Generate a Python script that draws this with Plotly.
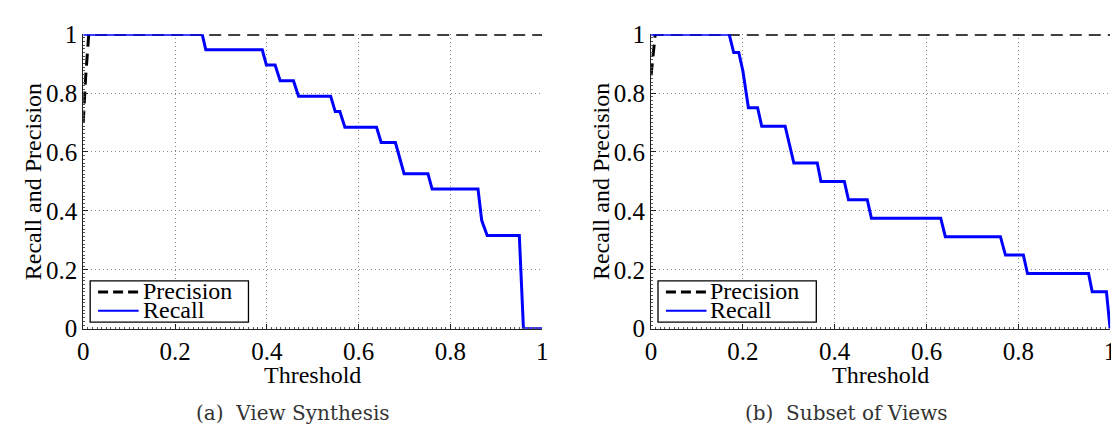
import plotly.graph_objects as go

W, H = 1119, 436

# ---- data ----
thr_a_recall = [0, 0.259, 0.267, 0.39, 0.399, 0.418, 0.429, 0.458, 0.469, 0.539, 0.549,
                0.559, 0.57, 0.639, 0.649, 0.68, 0.699, 0.751, 0.76, 0.86, 0.868, 0.88,
                0.95, 0.959, 1.0]
recall_a = [1, 1, 0.947, 0.947, 0.895, 0.895, 0.842, 0.842, 0.789, 0.789, 0.737,
            0.737, 0.684, 0.684, 0.632, 0.632, 0.526, 0.526, 0.474, 0.474, 0.368, 0.316,
            0.316, 0.0, 0.0]
thr_a_prec = [0, 0.005, 0.012, 1.0]
precision_a = [0.7, 0.85, 1.0, 1.0]

thr_b_recall = [0, 0.17, 0.18, 0.191, 0.2, 0.212, 0.232, 0.241, 0.292, 0.311, 0.362,
                0.37, 0.421, 0.43, 0.471, 0.48, 0.631, 0.641, 0.761, 0.772, 0.811,
                0.82, 0.953, 0.961, 0.992, 1.0]
recall_b = [1, 1, 0.9375, 0.9375, 0.875, 0.75, 0.75, 0.6875, 0.6875, 0.5625, 0.5625,
            0.5, 0.5, 0.4375, 0.4375, 0.375, 0.375, 0.3125, 0.3125, 0.25, 0.25,
            0.1875, 0.1875, 0.125, 0.125, 0.0]
thr_b_prec = [0, 0.004, 0.009, 1.0]
precision_b = [0.86, 0.93, 1.0, 1.0]

tick_vals = [0, 0.2, 0.4, 0.6, 0.8, 1]
tick_text = ["0", "0.2", "0.4", "0.6", "0.8", "1"]
x_title = "Threshold"
y_title = "Recall and Precision"
captions = ["(a)  View Synthesis", "(b)  Subset of Views"]
legend_names = ["Precision", "Recall"]

# ---- layout geometry (pixels) ----
def px(x):
    return x / W

def py(y):
    return 1 - y / H

left_x = (70, 534)
right_x = (644, 1108)
top_y, bot_y = 14, 328
caption_left = [182, 737]

FONT = "Liberation Serif"
BLUE = "#0000ff"

fig = go.Figure()

panels = [
    ("x", "y", thr_a_prec, precision_a, thr_a_recall, recall_a),
    ("x2", "y2", thr_b_prec, precision_b, thr_b_recall, recall_b),
]
for xa, ya, tp, pv, tr, rv in panels:
    fig.add_trace(go.Scatter(x=tp, y=pv, mode="lines", xaxis=xa, yaxis=ya,
                             line=dict(color="black", width=3, dash="12px,7px"),
                             cliponaxis=False, showlegend=False, name=legend_names[0]))
    fig.add_trace(go.Scatter(x=tr, y=rv, mode="lines", xaxis=xa, yaxis=ya,
                             line=dict(color=BLUE, width=3),
                             cliponaxis=False, showlegend=False, name=legend_names[1]))

axis_common = dict(
    range=[0, 1], tickvals=tick_vals, ticktext=tick_text,
    showline=True, linecolor="#222", linewidth=1, mirror=False,
    ticks="inside", ticklen=5, tickcolor="#222", tickwidth=1,
    showgrid=True, gridcolor="#888", griddash="1px,3px", gridwidth=1,
    zeroline=False, tickfont=dict(family=FONT, size=25, color="black"),
    minor=dict(ticks="inside", ticklen=2, tickcolor="#555", dtick=0.01, showgrid=False),
    fixedrange=True,
)

ydom = [py(bot_y), py(top_y)]
fig.update_layout(
    width=W, height=H,
    margin=dict(l=0, r=0, t=0, b=0),
    paper_bgcolor="white", plot_bgcolor="white",
    showlegend=False,
    xaxis=dict(domain=[px(left_x[0]), px(left_x[1])], anchor="y", **axis_common),
    yaxis=dict(domain=ydom, anchor="x", **axis_common),
    xaxis2=dict(domain=[px(right_x[0]), px(right_x[1])], anchor="y2", **axis_common),
    yaxis2=dict(domain=ydom, anchor="x2", **axis_common),
)
fig.update_yaxes(minor=dict(ticks="inside", ticklen=2, tickcolor="#555", dtick=0.0125, showgrid=False))

shapes = []
annotations = []
for i, (x0, x1) in enumerate([left_x, right_x]):
    cx = (x0 + x1) / 2
    # axis titles
    annotations.append(dict(text=x_title, x=px(cx), y=py(377), xref="paper", yref="paper",
                            xanchor="center", yanchor="middle", showarrow=False,
                            font=dict(family=FONT, size=24, color="black")))
    annotations.append(dict(text=y_title, x=px(x0 - 50), y=py((top_y + bot_y) / 2),
                            xref="paper", yref="paper", textangle=-90,
                            xanchor="center", yanchor="middle", showarrow=False,
                            font=dict(family=FONT, size=24, color="black")))
    # caption
    annotations.append(dict(text=captions[i], x=px(caption_left[i]), y=py(418), xref="paper", yref="paper",
                            xanchor="left", yanchor="middle", showarrow=False,
                            font=dict(family="DejaVu Serif", size=20, color="#333")))
    # legend (box, samples, labels)
    off = x0 - left_x[0]
    shapes.append(dict(type="rect", xref="paper", yref="paper",
                       x0=px(77 + off), x1=px(237 + off), y0=py(321), y1=py(277),
                       line=dict(color="black", width=1.3), fillcolor="white", layer="above"))
    shapes.append(dict(type="line", xref="paper", yref="paper",
                       x0=px(85 + off), x1=px(126 + off), y0=py(289), y1=py(289),
                       line=dict(color="black", width=3, dash="10px,5px"), layer="above"))
    shapes.append(dict(type="line", xref="paper", yref="paper",
                       x0=px(85 + off), x1=px(126 + off), y0=py(309), y1=py(309),
                       line=dict(color=BLUE, width=2), layer="above"))
    annotations.append(dict(text=legend_names[0], x=px(128 + off), y=py(288), xref="paper", yref="paper",
                            xanchor="left", yanchor="middle", showarrow=False,
                            font=dict(family=FONT, size=24, color="black")))
    annotations.append(dict(text=legend_names[1], x=px(128 + off), y=py(308), xref="paper", yref="paper",
                            xanchor="left", yanchor="middle", showarrow=False,
                            font=dict(family=FONT, size=24, color="black")))

fig.update_layout(shapes=shapes, annotations=annotations)

fig.write_html("out.html")
